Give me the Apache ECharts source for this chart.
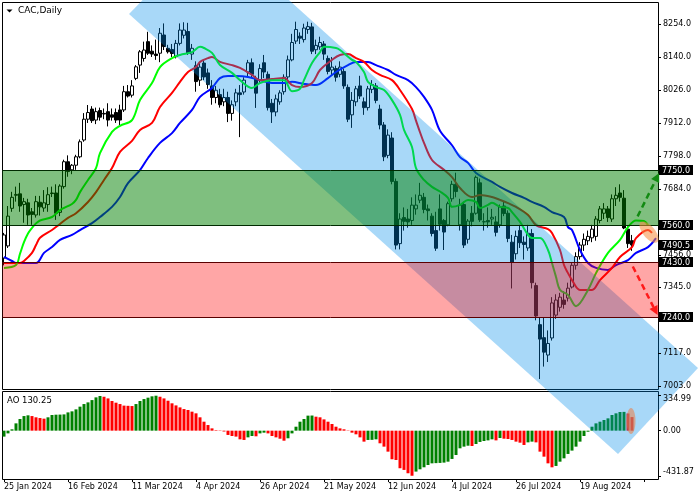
<!DOCTYPE html>
<html>
<head>
<meta charset="utf-8">
<title>CAC,Daily</title>
<script src="https://cdn.jsdelivr.net/npm/echarts@6.0.0/dist/echarts.min.js"></script>
<style>
html,body{margin:0;padding:0;background:#ffffff;}
#chart{width:700px;height:500px;}
</style>
</head>
<body>
<div id="chart"></div>
<script>
// ---------------- data ----------------
const symbolTitle = 'CAC,Daily';
const firstDay = '2024-01-25';
const holidays = ['2024-03-29', '2024-04-01', '2024-05-01'];
const futureSlots = 6;
const MONTHS = ['Jan','Feb','Mar','Apr','May','Jun','Jul','Aug','Sep','Oct','Nov','Dec'];

const open = [
7445,7487,7617,7662,7667,7630,7636,7605,7594,7638,
7618,7630,7670,7670,7603,7692,7778,7750,7766,7795,
7853,7925,7960,7922,7955,7945,7951,7940,7948,7957,
7957,8020,8008,8066,8112,8135,8193,8160,8150,8153,
8216,8170,8166,8141,8187,8215,8228,8150,8110,8060,
8119,8085,8040,8000,8010,7985,8000,7945,7985,8016,
8019,8088,8120,8065,8060,8120,8080,7980,7950,7985,
8020,8071,8130,8195,8212,8200,8235,8244,8165,8175,
8185,8135,8095,8100,8080,8090,8035,7940,7985,8040,
7985,7965,8028,8040,7960,7905,7800,7860,7710,7495,
7585,7580,7575,7615,7645,7655,7615,7590,7540,7615,
7575,7560,7650,7700,7560,7630,7510,7600,7600,7705,
7570,7575,7580,7570,7560,7625,7600,7500,7460,7540,
7500,7480,7530,7350,7215,7170,7110,7169,7248,7275,
7300,7307,7345,7420,7450,7490,7505,7515,7520,7575,
7600,7615,7580,7650,7670,7652,7545,7505];
const high = [
7532,7625,7674,7692,7705,7653,7650,7618,7660,7660,
7680,7690,7692,7700,7700,7785,7800,7770,7802,7855,
7946,7974,7970,7965,7965,7962,7980,7962,7962,7975,
8040,8043,8060,8112,8164,8193,8227,8180,8200,8240,
8256,8182,8185,8199,8256,8260,8258,8185,8125,8120,
8130,8100,8060,8040,8030,8030,8020,7990,8030,8043,
8070,8130,8135,8075,8115,8147,8090,7995,8010,8025,
8080,8145,8220,8262,8225,8255,8262,8258,8200,8210,
8195,8145,8140,8110,8125,8100,8045,8019,8040,8075,
8000,8040,8060,8050,7975,7915,7890,7880,7720,7600,
7620,7615,7655,7665,7705,7670,7630,7600,7605,7665,
7580,7640,7712,7740,7650,7640,7580,7625,7730,7720,
7600,7620,7615,7590,7630,7640,7610,7525,7540,7560,
7520,7560,7545,7360,7241,7240,7195,7310,7320,7325,
7330,7360,7430,7465,7500,7530,7540,7560,7590,7625,
7635,7625,7665,7690,7700,7680,7555,7525];
const low = [
7420,7480,7605,7640,7605,7567,7560,7560,7585,7592,
7605,7605,7656,7577,7590,7685,7726,7735,7750,7790,
7847,7912,7912,7908,7920,7925,7900,7920,7912,7905,
7950,8000,8000,8060,8085,8124,8147,8140,8130,8122,
8164,8152,8140,8135,8180,8204,8147,8130,8020,8040,
8060,8030,7975,7980,7965,7970,7915,7920,7970,7863,
8010,8070,8070,7964,8050,8067,7955,7912,7935,7975,
8010,8060,8125,8185,8185,8190,8220,8150,8150,8165,
8130,8080,8075,8055,8070,8030,7915,7895,7970,7995,
7940,7955,8015,7980,7890,7780,7790,7700,7475,7475,
7540,7550,7560,7595,7635,7600,7575,7520,7470,7540,
7473,7555,7640,7655,7540,7480,7495,7555,7595,7570,
7540,7550,7560,7520,7550,7590,7500,7340,7440,7480,
7440,7470,7340,7230,7027,7070,7086,7160,7235,7260,
7270,7295,7340,7405,7440,7470,7490,7500,7505,7565,
7580,7570,7570,7625,7640,7545,7480,7470];
const close = [
7525,7590,7655,7665,7625,7640,7594,7596,7640,7622,
7636,7664,7668,7600,7694,7778,7744,7766,7795,7847,
7925,7948,7920,7951,7932,7943,7922,7932,7922,7922,
8020,8005,8040,8106,8158,8164,8153,8150,8145,8222,
8176,8158,8152,8187,8233,8233,8153,8170,8055,8105,
8071,8045,8000,8025,7975,8000,7945,7975,8016,8010,
8060,8120,8080,8015,8100,8088,7965,7950,7995,8016,
8070,8130,8190,8235,8205,8240,8245,8160,8180,8190,
8150,8090,8105,8070,8105,8040,7925,7990,8030,8005,
7965,8030,8045,7990,7905,7795,7870,7710,7490,7580,
7572,7570,7628,7628,7662,7613,7609,7530,7479,7562,
7535,7633,7700,7675,7628,7490,7573,7572,7724,7577,
7571,7570,7586,7534,7622,7599,7513,7430,7520,7498,
7492,7531,7360,7245,7165,7120,7150,7290,7300,7310,
7285,7341,7420,7450,7490,7510,7520,7545,7580,7615,
7615,7585,7650,7662,7655,7549,7495,7490.5];

// Awesome Oscillator values
const ao = [
-57,-26,13,70,112,140,147,140,128,121,
115,128,150,153,154,156,175,185,204,230,
255,271,293,319,332,325,309,284,268,255,
240,238,236,255,284,303,316,329,334.99,325,
309,287,262,242,223,207,198,182,166,128,
86,54,22,5,-3,-8,-41,-51,-57,-83,
-89,-64,-51,-54,-26,-19,-26,-51,-64,-77,
-96,-73,-26,38,86,112,144,145,134,128,
108,86,64,38,22,13,-3,-19,-35,-64,
-105,-89,-88,-83,-121,-153,-201,-274,-281,-360,
-376,-408,-431.87,-392,-370,-351,-329,-313,-311,-309,
-306,-297,-271,-233,-169,-153,-144,-147,-128,-108,
-99,-93,-83,-93,-70,-77,-80,-89,-105,-115,
-137,-112,-105,-112,-201,-249,-313,-351,-338,-297,
-265,-223,-191,-153,-105,-51,-10,38,70,86,
102,118,150,166,179,180,165,130.25];

// moving averages: [bar index, price]
const maFast = [[0,7411],[3,7421],[4,7460],[5,7500],[6,7530],[7,7549],[8,7565],[9,7575],[12,7587],[14,7611],[17,7632],[18,7646],[19,7673],[21,7715],[23,7756],[24,7808],[27,7881],[29,7902],[32,7922],[34,7991],[37,8050],[39,8105],[42,8136],[44,8147],[47,8157],[49,8175],[50,8171],[52,8154],[54,8112],[57,8085],[59,8060],[62,8033],[64,8050],[67,8060],[70,8060],[72,8022],[74,8030],[75,8060],[77,8119],[79,8157],[80,8175],[83,8171],[84,8164],[87,8130],[88,8123],[90,8088],[91,8054],[93,8036],[95,8026],[97,7991],[99,7940],[100,7888],[102,7829],[103,7756],[105,7715],[107,7691],[109,7675],[111,7653],[112,7622],[114,7629],[116,7646],[118,7639],[119,7618],[121,7629],[122,7636],[124,7622],[126,7618],[127,7604],[129,7570],[131,7525],[132,7514],[134,7514],[136,7473],[137,7428],[138,7380],[139,7335],[141,7318],[143,7279],[146,7335],[148,7393],[151,7463],[154,7508],[156,7552],[158,7575],[160,7573],[161,7559]];
const maMid = [[0,7428],[4,7428],[5,7435],[7,7463],[8,7490],[9,7515],[12,7542],[14,7563],[16,7584],[18,7600],[21,7639],[23,7673],[25,7715],[27,7756],[29,7812],[32,7850],[34,7888],[37,7912],[39,7967],[42,8016],[44,8054],[46,8088],[48,8105],[49,8123],[51,8136],[52,8140],[54,8123],[57,8112],[59,8102],[62,8078],[64,8060],[67,8064],[70,8067],[72,8043],[74,8036],[77,8050],[79,8095],[82,8130],[84,8147],[86,8150],[88,8136],[90,8123],[92,8095],[94,8078],[97,8060],[99,8026],[102,7960],[103,7920],[104,7880],[105,7843],[107,7784],[110,7750],[112,7725],[114,7687],[117,7656],[119,7663],[122,7656],[124,7646],[126,7635],[128,7622],[131,7594],[133,7559],[136,7545],[137,7532],[139,7473],[140,7421],[141,7393],[142,7369],[144,7335],[147,7335],[149,7369],[152,7411],[154,7449],[157,7483],[158,7514],[161,7542],[162,7532]];
const maSlow = [[0,7449],[2,7435],[3,7428],[8,7428],[10,7463],[12,7483],[14,7508],[17,7525],[19,7542],[22,7566],[24,7587],[27,7622],[29,7656],[31,7704],[34,7749],[36,7791],[39,7843],[42,7877],[44,7912],[47,7957],[49,8002],[52,8033],[54,8067],[56,8074],[58,8074],[61,8071],[64,8060],[67,8050],[70,8050],[72,8054],[75,8047],[78,8043],[81,8067],[83,8088],[86,8112],[88,8123],[91,8123],[93,8112],[96,8095],[98,8078],[101,8060],[103,8036],[105,8002],[107,7957],[109,7885],[112,7835],[114,7794],[116,7774],[118,7739],[122,7708],[124,7691],[127,7670],[130,7653],[132,7639],[135,7622],[137,7604],[140,7587],[141,7552],[142,7542],[144,7473],[146,7428],[148,7411],[151,7404],[153,7421],[156,7438],[158,7463],[161,7483],[163,7514]];

const priceTicks = [7003, 7117, 7345, 7456, 7684, 7798, 7912, 8026, 8140, 8254];
const aoTicks = [-431.87, 0, 334.99];
const greenZone = [7560, 7750];
const redZone = [7240, 7430];
const priceTags = [7750, 7560, 7430, 7240];
// trend channel corners [bar index, price]
const channel = [[31.25, 8288.6], [153.5, 6768], [173.5, 7065], [51.75, 8579]];
const upArrow = [[158.4, 7589], [163.8, 7739]];
const downArrow = [[157.2, 7416], [163.4, 7248]];
const maMark = [161.25, 7535];
const aoMark = [156.75, 93];

// ---------------- categories ----------------
function buildDays() {
  const out = [];
  const d = new Date(firstDay + 'T00:00:00Z');
  while (out.length < open.length) {
    const dow = d.getUTCDay();
    const iso = d.toISOString().slice(0, 10);
    if (dow !== 0 && dow !== 6 && holidays.indexOf(iso) < 0) {
      out.push(d.getUTCDate() + ' ' + MONTHS[d.getUTCMonth()] + ' ' + d.getUTCFullYear());
    }
    d.setUTCDate(d.getUTCDate() + 1);
  }
  return out;
}
const days = buildDays();
const categories = days.slice();
for (let k = 1; k <= futureSlots; k++) categories.push('+' + k);

const FONT = 'DejaVu Sans';
const chart = echarts.init(document.getElementById('chart'), null, { renderer: 'canvas', width: 700, height: 500 });

const candleData = open.map((o, i) => [o, close[i], low[i], high[i]]);
const aoData = ao.map((v, i) => ({
  value: v,
  itemStyle: { color: (i > 0 && v < ao[i - 1]) ? '#ff0000' : '#008000' }
}));

const option = {
  animation: false,
  backgroundColor: '#ffffff',
  textStyle: { fontFamily: FONT },
  grid: [
    { left: 2, right: 42, top: 2, bottom: 111, show: false },
    { left: 2, right: 42, top: 391, bottom: 21, show: false }
  ],
  xAxis: [
    { type: 'category', gridIndex: 0, data: categories, boundaryGap: true,
      axisLine: { show: false, onZero: false }, axisTick: { show: false }, axisLabel: { show: false }, splitLine: { show: false } },
    { type: 'category', gridIndex: 1, data: categories, boundaryGap: true, z: 10, position: 'bottom',
      axisLine: { show: false, onZero: false },
      axisTick: { show: true, interval: 15, alignWithLabel: true, length: 3, lineStyle: { color: '#000' } },
      axisLabel: { interval: 15, align: 'left', margin: 4, fontSize: 8, color: '#000', fontFamily: FONT,
        formatter: v => (v.charAt(0) === '+' ? '' : v) },
      splitLine: { show: false } }
  ],
  yAxis: [
    { type: 'value', gridIndex: 0, position: 'right', min: 6992.6, max: 8330, z: 10,
      axisLine: { show: false }, splitLine: { show: false },
      axisTick: { show: true, customValues: priceTicks, length: 3, lineStyle: { color: '#000' } },
      axisLabel: { customValues: priceTicks, formatter: v => v.toFixed(1), margin: 5, fontSize: 8, color: '#000', fontFamily: FONT } },
    { type: 'value', gridIndex: 1, position: 'right', min: -463, max: 380, z: 10,
      axisLine: { show: false }, splitLine: { show: false },
      axisTick: { show: true, customValues: aoTicks, length: 3, lineStyle: { color: '#000' } },
      axisLabel: { customValues: aoTicks, margin: 5, fontSize: 8, color: '#000', fontFamily: FONT,
        formatter: v => v > 1 ? '{t|' + v.toFixed(2) + '}' : (v < -1 ? '{b|' + v.toFixed(2) + '}' : v.toFixed(2)),
        rich: { t: { padding: [6, 0, 0, 0], fontSize: 8, fontFamily: FONT, color: '#000' },
                b: { padding: [0, 0, 8, 0], fontSize: 8, fontFamily: FONT, color: '#000' } } } }
  ],
  series: [
    { type: 'candlestick', name: 'CAC', xAxisIndex: 0, yAxisIndex: 0, data: candleData, barWidth: 3,
      itemStyle: { color: '#ffffff', color0: '#000000', borderColor: '#000000', borderColor0: '#000000', borderWidth: 1 }, z: 2 },
    { type: 'line', name: 'slow', xAxisIndex: 0, yAxisIndex: 0, data: maSlow, showSymbol: false, smooth: 0.35,
      lineStyle: { color: '#0000ff', width: 2 }, z: 3 },
    { type: 'line', name: 'mid', xAxisIndex: 0, yAxisIndex: 0, data: maMid, showSymbol: false, smooth: 0.35,
      lineStyle: { color: '#ff0000', width: 2 }, z: 3 },
    { type: 'line', name: 'fast', xAxisIndex: 0, yAxisIndex: 0, data: maFast, showSymbol: false, smooth: 0.35,
      lineStyle: { color: '#00ff00', width: 2 }, z: 3 },
    { type: 'bar', name: 'AO', xAxisIndex: 1, yAxisIndex: 1, data: aoData, barWidth: 3, z: 2 }
  ]
};
chart.setOption(option);

// ---------------- annotations (positioned through the axes) ----------------
const xa = chart.convertToPixel({ xAxisIndex: 0 }, 0);
const xb = chart.convertToPixel({ xAxisIndex: 0 }, 163);
const xPix = i => xa + (xb - xa) * i / 163;
const yPix = p => chart.convertToPixel({ yAxisIndex: 0 }, p);
const yAo = v => chart.convertToPixel({ yAxisIndex: 1 }, v);
const L = xPix(-0.5), R = xPix(163.5);
const crisp = v => Math.round(v) + 0.5;

const els = [];
// panel frames (crisp 1px lines, below the overlays)
function frame(top, bottom) {
  const x1 = crisp(L), x2 = crisp(R), y1 = crisp(top), y2 = crisp(bottom);
  els.push({ type: 'polyline', z: 1, silent: true,
    shape: { points: [[x1, y1], [x2, y1], [x2, y2], [x1, y2], [x1, y1]] },
    style: { stroke: '#000', lineWidth: 1, fill: null } });
}
frame(yPix(8330), yPix(6992.6));
frame(yAo(380), yAo(-463));
// channel
els.push({ type: 'polygon', z: 5, silent: true,
  shape: { points: channel.map(p => [xPix(p[0]), yPix(p[1])]) },
  style: { fill: 'rgba(0,141,235,0.34)' } });
// zones
function zone(z, fill, stroke) {
  const yt = crisp(yPix(z[1])), yb = crisp(yPix(z[0]));
  els.push({ type: 'rect', z: 6, silent: true, shape: { x: crisp(L), y: yt, width: crisp(R) - crisp(L), height: yb - yt }, style: { fill: fill } });
  els.push({ type: 'line', z: 6, silent: true, shape: { x1: crisp(L), y1: yt, x2: crisp(R), y2: yt }, style: { stroke: stroke, lineWidth: 1 } });
  els.push({ type: 'line', z: 6, silent: true, shape: { x1: crisp(L), y1: yb, x2: crisp(R), y2: yb }, style: { stroke: stroke, lineWidth: 1 } });
}
zone(greenZone, 'rgba(0,128,0,0.5)', '#002a00');
zone(redZone, 'rgba(255,0,0,0.35)', '#5a0000');
// arrows
function arrow(a, color) {
  const x1 = xPix(a[0][0]), y1 = yPix(a[0][1]), x2 = xPix(a[1][0]), y2 = yPix(a[1][1]);
  const dx = x2 - x1, dy = y2 - y1, len = Math.sqrt(dx * dx + dy * dy);
  const ux = dx / len, uy = dy / len, hl = 9, hw = 4.5;
  const bx = x2 - ux * hl, by = y2 - uy * hl;
  els.push({ type: 'line', z: 7, silent: true, shape: { x1: x1, y1: y1, x2: bx, y2: by },
    style: { stroke: color, lineWidth: 2.5, lineDash: [6, 4] } });
  els.push({ type: 'polygon', z: 7, silent: true,
    shape: { points: [[x2, y2], [bx - uy * hw, by + ux * hw], [bx + uy * hw, by - ux * hw]] },
    style: { fill: color } });
}
arrow(upArrow, '#128a12');
arrow(downArrow, '#ff1a1a');
// highlight ellipses
els.push({ type: 'ellipse', z: 7, silent: true, x: xPix(maMark[0]), y: yPix(maMark[1]), rotation: -0.87,
  shape: { cx: 0, cy: 0, rx: 13, ry: 6 }, style: { fill: 'rgba(245,140,60,0.55)' } });
els.push({ type: 'ellipse', z: 7, silent: true, x: xPix(aoMark[0]), y: yAo(aoMark[1]),
  shape: { cx: 0, cy: 0, rx: 4.5, ry: 13 }, style: { fill: 'rgba(235,125,70,0.55)' } });
// price tags
function tag(price, text) {
  const yc = Math.round(yPix(price));
  els.push({ type: 'rect', z: 20, silent: true, shape: { x: Math.round(R) + 1, y: yc - 5, width: 34, height: 10 }, style: { fill: '#000' } });
  els.push({ type: 'text', z: 21, silent: true, x: Math.round(R) + 4, y: yc + 0.5,
    style: { text: text, fill: '#fff', font: '8px "' + FONT + '"', verticalAlign: 'middle', align: 'left' } });
}
priceTags.forEach(p => tag(p, p.toFixed(1)));
tag(close[close.length - 1], close[close.length - 1].toFixed(1));
// titles
els.push({ type: 'polygon', z: 20, silent: true, shape: { points: [[6.5, 9.5], [12.5, 9.5], [9.5, 12.5]] }, style: { fill: '#000' } });
els.push({ type: 'text', z: 20, silent: true, x: 18, y: 11,
  style: { text: symbolTitle, fill: '#000', font: '9px "' + FONT + '"', verticalAlign: 'middle' } });
els.push({ type: 'text', z: 20, silent: true, x: 7, y: 401,
  style: { text: 'AO ' + ao[ao.length - 1].toFixed(2), fill: '#000', font: '8.5px "' + FONT + '"', verticalAlign: 'middle' } });

chart.setOption({ graphic: { elements: els } });
</script>
</body>
</html>
